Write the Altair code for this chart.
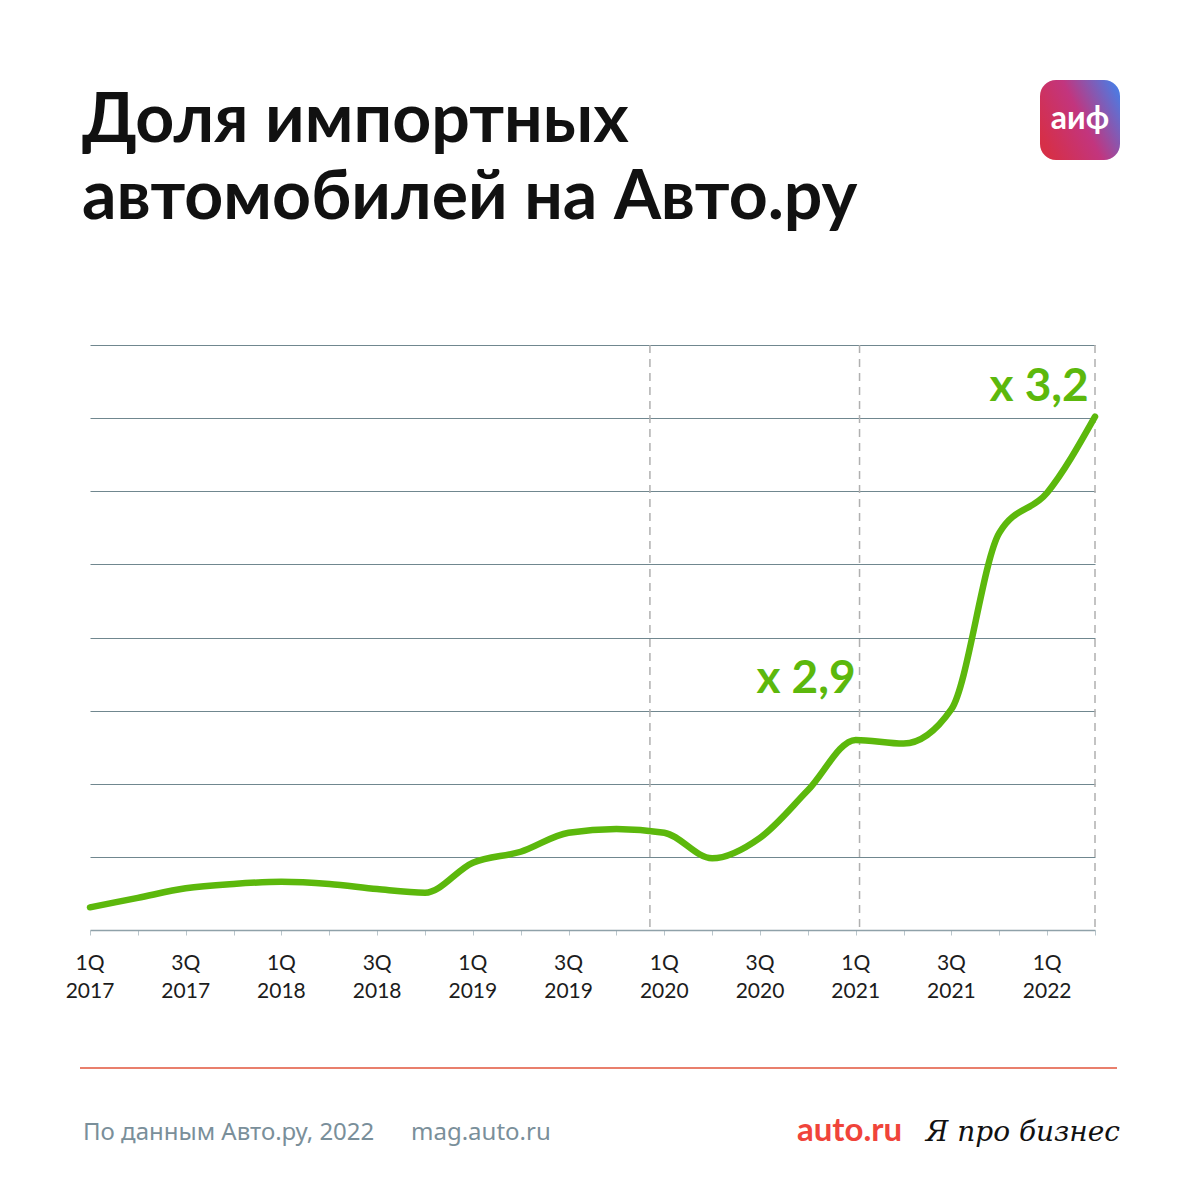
import altair as alt
import pandas as pd

# ---- data ----
quarter_index = list(range(22))  # 1Q 2017 ... 2Q 2022
import_share = [0.31, 0.44, 0.57, 0.63, 0.66, 0.63, 0.56, 0.51, 0.92, 1.07, 1.33,
                1.38, 1.33, 0.98, 1.26, 1.91, 2.60, 2.55, 3.02, 5.43, 5.98, 7.02]

label_positions = [0, 2, 4, 6, 8, 10, 12, 14, 16, 18, 20]
label_quarters = ["1Q", "3Q", "1Q", "3Q", "1Q", "3Q", "1Q", "3Q", "1Q", "3Q", "1Q"]
label_years = ["2017", "2017", "2018", "2018", "2019", "2019", "2020", "2020", "2021", "2021", "2022"]

marker_positions = [11.7, 16.08, 21]

annot_x = [16, 20.87]
annot_y = [3.24, 7.23]
annot_text = ["x 2,9", "x 3,2"]

title_lines = ["Доля импортных", "автомобилей на Авто.ру"]
source_text = "По данным Авто.ру, 2022"
site_text = "mag.auto.ru"

GREEN = "#5cb80c"
FONT = "Lato"

line_df = pd.DataFrame({"q": quarter_index, "v": import_share})
labels_df = pd.DataFrame({"q": label_positions, "quarter": label_quarters, "year": label_years})
markers_df = pd.DataFrame({"q": marker_positions})
annot_df = pd.DataFrame({"q": annot_x, "v": annot_y, "t": annot_text})
one = pd.DataFrame({"k": [0]})

x_scale = alt.Scale(domain=[0, 21], nice=False, zero=False)
y_scale = alt.Scale(domain=[0, 8], nice=False)
x_axis = alt.Axis(values=quarter_index, labels=False, grid=False, ticks=True, tickSize=5,
                  tickColor="#b9c5cb", domainColor="#8fa1a9", domainWidth=1.5, title=None)
y_axis = alt.Axis(values=list(range(1, 9)), grid=True, gridColor="#70878f", gridWidth=1.2,
                  labels=False, ticks=False, domain=False, title=None)

X = alt.X("q:Q", scale=x_scale, axis=x_axis)
Y = alt.Y("v:Q", scale=y_scale, axis=y_axis)

rules = alt.Chart(markers_df).mark_rule(strokeDash=[8, 6], color="#b0b0b0", strokeWidth=1.5).encode(
    x=X, y=alt.value(0), y2=alt.value(585)
)

line = alt.Chart(line_df).mark_line(interpolate="monotone", color=GREEN, strokeWidth=6.5,
                                    strokeCap="round", strokeJoin="round").encode(x=X, y=Y)

annots = alt.Chart(annot_df).mark_text(font=FONT, fontWeight="bold", fontSize=46, color=GREEN,
                                       align="right", baseline="alphabetic").encode(x=X, y=Y, text="t:N")

lab1 = alt.Chart(labels_df).mark_text(font=FONT, fontSize=21, color="#1c1c1c", baseline="alphabetic").encode(
    x=X, y=alt.value(625), text="quarter:N")
lab2 = alt.Chart(labels_df).mark_text(font=FONT, fontSize=21, color="#1c1c1c", baseline="alphabetic").encode(
    x=X, y=alt.value(653), text="year:N")

title1 = alt.Chart(one).mark_text(font=FONT, fontWeight="bold", fontSize=68, color="#111111",
                                  align="left", baseline="alphabetic").encode(
    x=alt.value(-8), y=alt.value(-203), text=alt.value(title_lines[0]))
title2 = alt.Chart(one).mark_text(font=FONT, fontWeight="bold", fontSize=68, color="#111111",
                                  align="left", baseline="alphabetic").encode(
    x=alt.value(-8), y=alt.value(-126), text=alt.value(title_lines[1]))

logo_fill = alt.LinearGradient(
    gradient="linear", x1=0, y1=0.7, x2=1, y2=0.2,
    stops=[alt.GradientStop(color="#d62f48", offset=0),
           alt.GradientStop(color="#c2357e", offset=0.5),
           alt.GradientStop(color="#4f79e0", offset=1)])
logo = alt.Chart(one).mark_rect(fill=logo_fill, cornerRadius=16).encode(
    x=alt.value(950), x2=alt.value(1030), y=alt.value(-265), y2=alt.value(-185))
logo_text = alt.Chart(one).mark_text(font=FONT, fontWeight="bold", fontSize=32, color="white",
                                     align="center", baseline="middle").encode(
    x=alt.value(990), y=alt.value(-226), text=alt.value("аиф"))

sep = alt.Chart(one).mark_rule(color="#e2553b", strokeWidth=1.5).encode(
    x=alt.value(-10), x2=alt.value(1027), y=alt.value(723))

foot1 = alt.Chart(one).mark_text(font="Noto Sans", fontSize=24, color="#7a8f9a", align="left",
                                 baseline="alphabetic").encode(
    x=alt.value(-7), y=alt.value(795), text=alt.value(source_text))
foot2 = alt.Chart(one).mark_text(font="Noto Sans", fontSize=24, color="#7a8f9a", align="left",
                                 baseline="alphabetic").encode(
    x=alt.value(321), y=alt.value(795), text=alt.value(site_text))
brand1 = alt.Chart(one).mark_text(font=FONT, fontWeight="bold", fontSize=33, color="#f0443a",
                                  align="left", baseline="alphabetic").encode(
    x=alt.value(707), y=alt.value(796), text=alt.value("auto.ru"))
brand2 = alt.Chart(one).mark_text(font="DejaVu Serif", fontStyle="italic", fontSize=28, color="#111111",
                                  align="right", baseline="alphabetic").encode(
    x=alt.value(1030), y=alt.value(796), text=alt.value("Я про бизнес"))

chart = alt.layer(
    rules, line, annots, lab1, lab2, title1, title2, logo, logo_text, sep, foot1, foot2, brand1, brand2
).properties(
    width=1005, height=585,
    autosize=alt.AutoSizeParams(type="none"),
    padding={"left": 82, "top": 337, "right": 97, "bottom": 262},
    background="white",
).configure_view(strokeWidth=0)

chart.save("out.html", embed_options={"renderer": "svg", "actions": False})
